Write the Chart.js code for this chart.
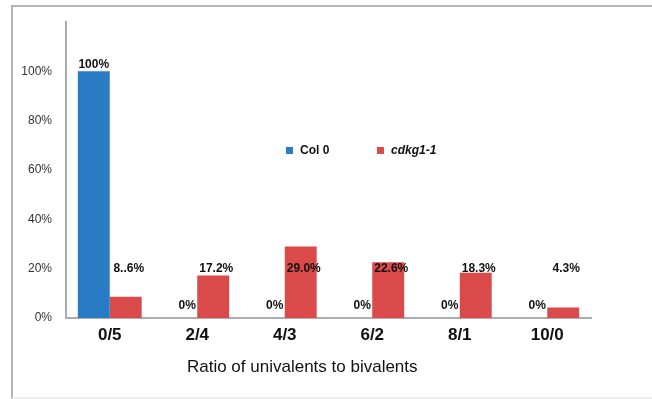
<!DOCTYPE html>
<html>
<head>
<meta charset="utf-8">
<script src="https://cdn.jsdelivr.net/npm/chart.js@4.4.0/dist/chart.umd.min.js"></script>
<style>
  html, body { margin: 0; padding: 0; background: #fff; }
  #wrap { position: relative; width: 652px; height: 399px; overflow: hidden; }
  #frame { position: absolute; left: 11px; top: 5px; width: 660px; height: 390px;
           border-left: 2px solid #b4b4b4; border-top: 2px solid #b4b4b4; border-bottom: 2px solid #ececec;
           pointer-events: none; }
  canvas { position: absolute; left: 0; top: 0; }
</style>
</head>
<body>
<div id="wrap">
  <canvas id="c" width="652" height="399"></canvas>
  <div id="frame"></div>
</div>
<script>
// ---- data ----
const categories = ['0/5', '2/4', '4/3', '6/2', '8/1', '10/0'];
const seriesNames = ['Col 0', 'cdkg1-1'];
const col0Values = [100, 0, 0, 0, 0, 0];
const cdkgValues = [8.6, 17.2, 29.0, 22.6, 18.3, 4.3];
const col0Labels = ['100%', '0%', '0%', '0%', '0%', '0%'];
const cdkgLabels = ['8..6%', '17.2%', '29.0%', '22.6%', '18.3%', '4.3%'];
const yTickValues = [0, 20, 40, 60, 80, 100];
const xAxisTitle = 'Ratio of univalents to bivalents';

const FONT = "'Liberation Sans', Arial, sans-serif";
const BLUE = '#2a7bc6';
const RED = '#da4a4b';

const labelPlugin = {
  id: 'labelPlugin',
  afterDatasetsDraw(chart) {
    const ctx = chart.ctx;
    const y = chart.scales.y;
    const area = chart.chartArea;
    ctx.save();
    ctx.fillStyle = '#111';
    ctx.font = 'bold 12px ' + FONT;
    ctx.textAlign = 'center';
    ctx.textBaseline = 'middle';
    const m0 = chart.getDatasetMeta(0);
    m0.data.forEach((bar, i) => {
      const v = col0Values[i];
      if (v > 0) {
        ctx.fillText(col0Labels[i], bar.x, y.getPixelForValue(v) - 7);
      } else {
        ctx.fillText(col0Labels[i], bar.x + 6, y.getPixelForValue(0) - 12);
      }
    });
    const m1 = chart.getDatasetMeta(1);
    m1.data.forEach((bar, i) => {
      ctx.fillText(cdkgLabels[i], bar.x + 3, y.getPixelForValue(20));
    });

    // legend
    const lx = area.left + 0.419 * (area.right - area.left);
    const ly = area.top + 0.434 * (area.bottom - area.top);
    const colors = [BLUE, RED];
    const offs = [0, 91];
    ctx.textAlign = 'left';
    seriesNames.forEach((name, i) => {
      const x = lx + offs[i];
      ctx.fillStyle = colors[i];
      ctx.fillRect(x, ly - 3.5, 7, 7);
      ctx.fillStyle = '#111';
      ctx.font = (i === 1 ? 'italic bold 12px ' : 'bold 12px ') + FONT;
      ctx.fillText(name, x + 14, ly);
    });

    // x axis title
    ctx.font = '17px ' + FONT;
    ctx.textAlign = 'center';
    ctx.fillStyle = '#111';
    ctx.fillText(xAxisTitle, area.left + 0.45 * (area.right - area.left), area.bottom + 49);
    ctx.restore();
  }
};

new Chart(document.getElementById('c'), {
  type: 'bar',
  data: {
    labels: categories,
    datasets: [
      { label: seriesNames[0], data: col0Values, backgroundColor: BLUE },
      { label: seriesNames[1], data: cdkgValues, backgroundColor: RED }
    ]
  },
  options: {
    responsive: false,
    animation: false,
    devicePixelRatio: 1,
    layout: { padding: { left: 0, top: 22, right: 61, bottom: 0 } },
    datasets: { bar: { barPercentage: 1.0, categoryPercentage: 0.73 } },
    plugins: { legend: { display: false }, tooltip: { enabled: false } },
    scales: {
      x: {
        grid: { display: false, drawTicks: false },
        border: { display: true, color: '#adadad', width: 2 },
        ticks: { color: '#111', font: { family: FONT, size: 17, weight: 'bold' }, padding: 7, maxRotation: 0 },
        afterFit(s) { s.height = 81; }
      },
      y: {
        min: 0, max: 120,
        grid: { display: false, drawTicks: false },
        border: { display: true, color: '#adadad', width: 2 },
        afterBuildTicks(s) { s.ticks = yTickValues.concat([120]).map(v => ({ value: v })); },
        ticks: {
          color: '#333',
          font: { family: FONT, size: 12 },
          padding: 14,
          callback: (v) => yTickValues.includes(v) ? v + '%' : ''
        },
        afterFit(s) { s.width = 66; }
      }
    }
  },
  plugins: [labelPlugin]
});
</script>
</body>
</html>
